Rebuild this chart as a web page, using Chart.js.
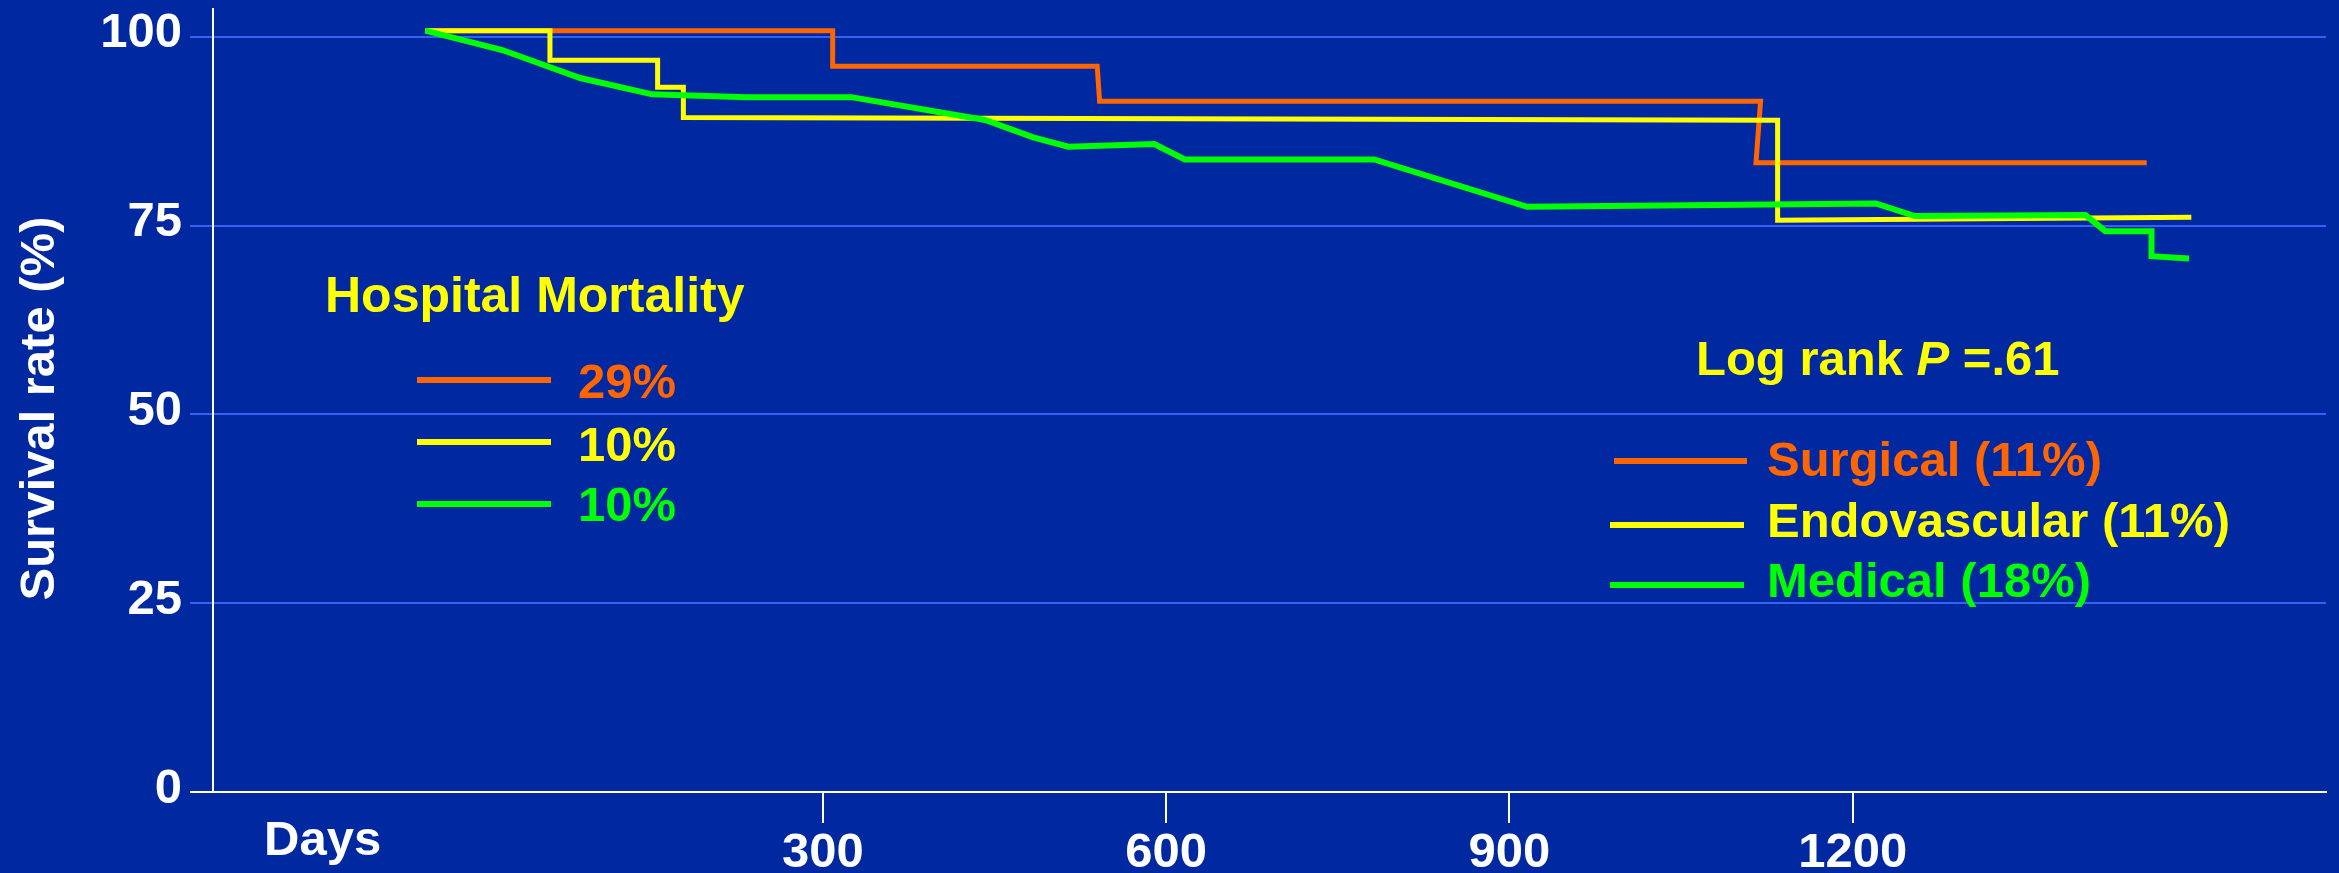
<!DOCTYPE html>
<html>
<head>
<meta charset="utf-8">
<script src="https://cdn.jsdelivr.net/npm/chart.js@4.4.1/dist/chart.umd.min.js"></script>
<style>
  html, body { margin: 0; padding: 0; background: #0028A0; overflow: hidden; }
  canvas { display: block; }
</style>
</head>
<body>
<canvas id="c" width="2339" height="873"></canvas>
<script>
// ---- data ----
const xTicks = [300, 600, 900, 1200];
const yTicks = [0, 25, 50, 75, 100];
const xAxisLabel = 'Days';
const yAxisLabel = 'Survival rate (%)';

const surgicalDays     = [-47.5, 308.5, 308.5, 539.7, 541.8, 1119.5, 1115.5, 1457];
const surgicalSurvival = [100.8, 100.8, 96.1,  96.1,  91.45, 91.45,  83.3,   83.3];

const endoDays     = [-47.5, 61.4, 61.4, 155.5, 155.5, 178,  178,  1134.4, 1134.4, 1496];
const endoSurvival = [100.8, 100.8, 96.9, 96.9, 93.3, 93.3, 89.3, 88.95, 75.7, 76.1];

const medicalDays     = [-47.5, 19.7, 87.9, 150.8, 233, 324.8, 441.8, 483.8, 514.4, 589.6, 616.3, 781.8, 915.5, 1220.2, 1254.4, 1403.5, 1420.8, 1461.2, 1461.2, 1494];
const medicalSurvival = [100.8, 98.24, 94.53, 92.37, 91.97, 92.0, 88.97, 86.68, 85.43, 85.79, 83.76, 83.76, 77.48, 77.93, 76.25, 76.38, 74.26, 74.26, 70.95, 70.65];

const seriesNames = ['Surgical (11%)', 'Endovascular (11%)', 'Medical (18%)'];
const hospitalMortalityTitle = 'Hospital Mortality';
const hospitalMortality = ['29%', '10%', '10%'];
const logRankParts = ['Log rank ', 'P', ' =.61'];

// ---- styles ----
const BG = '#0028A0';
const GRID = '#3363F5';
const COLORS = ['#FF6600', '#FFFF00', '#00FF00'];
const FONT = '"Liberation Sans", Arial, Helvetica, sans-serif';

function pts(xs, ys) { return xs.map((x, i) => ({ x: x, y: ys[i] })); }

const overlay = {
  id: 'overlay',
  beforeDraw(chart) {
    const ctx = chart.ctx;
    ctx.save();
    ctx.fillStyle = BG;
    ctx.fillRect(0, 0, chart.width, chart.height);
    ctx.restore();
  },
  afterDraw(chart) {
    const ctx = chart.ctx;
    ctx.save();
    ctx.textAlign = 'left';
    ctx.textBaseline = 'alphabetic';
    ctx.lineCap = 'butt';

    // x axis label "Days"
    ctx.font = 'bold 49px ' + FONT;
    ctx.fillStyle = '#FFFFFF';
    ctx.fillText(xAxisLabel, 264, 855);

    // Hospital mortality block
    ctx.font = 'bold 50px ' + FONT;
    ctx.fillStyle = COLORS[1];
    ctx.fillText(hospitalMortalityTitle, 325, 312);
    const hmY = [380, 442, 504];
    const hmBase = [398, 461, 521];
    ctx.font = 'bold 49px ' + FONT;
    for (let i = 0; i < 3; i++) {
      ctx.strokeStyle = COLORS[i];
      ctx.lineWidth = 6;
      ctx.beginPath();
      ctx.moveTo(417, hmY[i]);
      ctx.lineTo(551, hmY[i]);
      ctx.stroke();
      ctx.fillStyle = COLORS[i];
      ctx.fillText(hospitalMortality[i], 578, hmBase[i]);
    }

    // Log rank
    let x = 1696;
    ctx.fillStyle = COLORS[1];
    ctx.font = 'bold 49px ' + FONT;
    ctx.fillText(logRankParts[0], x, 375);
    x += ctx.measureText(logRankParts[0]).width;
    ctx.font = 'italic bold 49px ' + FONT;
    ctx.fillText(logRankParts[1], x, 375);
    x += ctx.measureText(logRankParts[1]).width;
    ctx.font = 'bold 49px ' + FONT;
    ctx.fillText(logRankParts[2], x, 375);

    // series legend
    const lgLineY = [461, 525, 585];
    const lgLineX0 = [1614, 1610, 1610];
    const lgLineX1 = [1747, 1744, 1744];
    const lgBase = [476, 537, 597];
    for (let i = 0; i < 3; i++) {
      ctx.strokeStyle = COLORS[i];
      ctx.lineWidth = 6;
      ctx.beginPath();
      ctx.moveTo(lgLineX0[i], lgLineY[i]);
      ctx.lineTo(lgLineX1[i], lgLineY[i]);
      ctx.stroke();
      ctx.fillStyle = COLORS[i];
      ctx.fillText(seriesNames[i], 1767, lgBase[i]);
    }
    ctx.restore();
  }
};

function noPad(axis) {
  axis.paddingTop = 0; axis.paddingBottom = 0;
  axis.paddingLeft = 0; axis.paddingRight = 0;
}

new Chart(document.getElementById('c'), {
  type: 'line',
  data: {
    datasets: [
      { label: seriesNames[0], data: pts(surgicalDays, surgicalSurvival), borderColor: COLORS[0], borderWidth: 5, order: 2 },
      { label: seriesNames[1], data: pts(endoDays, endoSurvival), borderColor: COLORS[1], borderWidth: 5, order: 1 },
      { label: seriesNames[2], data: pts(medicalDays, medicalSurvival), borderColor: COLORS[2], borderWidth: 6, order: 0 }
    ]
  },
  options: {
    responsive: false,
    animation: false,
    devicePixelRatio: 1,
    layout: { padding: { top: 9, right: 13, left: 0, bottom: 0 } },
    elements: {
      point: { radius: 0, hoverRadius: 0 },
      line: { tension: 0, fill: false, borderJoinStyle: 'miter', borderCapStyle: 'butt' }
    },
    plugins: {
      legend: { display: false },
      tooltip: { enabled: false },
      title: { display: false }
    },
    scales: {
      x: {
        type: 'linear',
        min: -233.1,
        max: 1613.7,
        afterBuildTicks(axis) { axis.ticks = xTicks.map(v => ({ value: v })); },
        afterFit(axis) { axis.height = 81; noPad(axis); },
        border: { display: true, color: '#FFFFFF', width: 2 },
        grid: { drawOnChartArea: false, drawTicks: true, tickLength: 31, color: '#FFFFFF', lineWidth: 2 },
        ticks: {
          color: '#FFFFFF',
          padding: 1,
          maxRotation: 0,
          autoSkip: false,
          font: { family: FONT, size: 49, weight: 'bold' },
          callback: v => String(v)
        }
      },
      y: {
        type: 'linear',
        min: 0,
        max: 103.67,
        afterBuildTicks(axis) { axis.ticks = yTicks.map(v => ({ value: v })); },
        afterFit(axis) {
          axis.width = 213; noPad(axis);
          if (!axis._titleShifted) {
            const orig = axis.drawTitle;
            axis.drawTitle = function () {
              const ctx = this.ctx;
              ctx.save();
              ctx.translate(0, 8);
              orig.apply(this, arguments);
              ctx.restore();
            };
            axis._titleShifted = true;
          }
        },
        border: { display: true, color: '#FFFFFF', width: 2 },
        grid: {
          drawTicks: true,
          tickLength: 23,
          lineWidth: 2,
          color: c => (c.tick && c.tick.value === 0) ? '#FFFFFF' : GRID
        },
        ticks: {
          color: '#FFFFFF',
          padding: 8,
          labelOffset: -3,
          font: { family: FONT, size: 49, weight: 'bold' },
          callback: v => String(v)
        },
        title: {
          display: true,
          text: yAxisLabel,
          color: '#FFFFFF',
          font: { family: FONT, size: 49, weight: 'bold' },
          padding: { top: 11, bottom: 0 }
        }
      }
    }
  },
  plugins: [overlay]
});
</script>
</body>
</html>
